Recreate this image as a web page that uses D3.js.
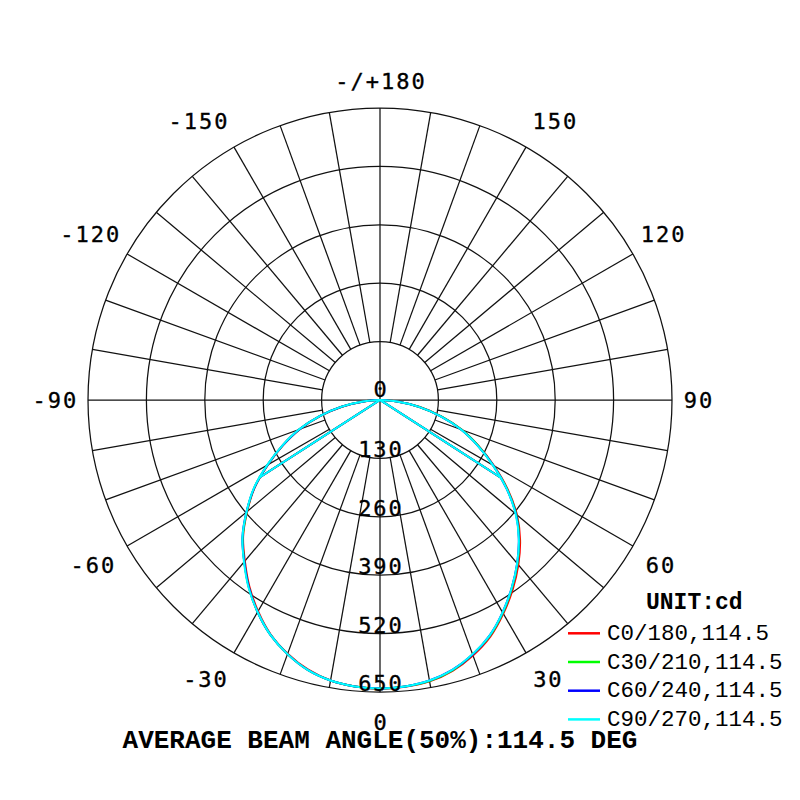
<!DOCTYPE html>
<html>
<head>
<meta charset="utf-8">
<script src="https://cdn.jsdelivr.net/npm/d3@7"></script>
<style>
  html, body { margin: 0; padding: 0; background: #fff; }
  svg { display: block; }
</style>
</head>
<body>
<svg id="chart" width="800" height="800"></svg>
<script>
// ---------------- DATA ----------------
const ringValues = [130, 260, 390, 520, 650];
const ringLabels = ["0", "130", "260", "390", "520", "650"];
const angleLabelValues = [-150, -120, -90, -60, -30, 0, 30, 60, 90, 120, 150, 180];
const gammaAngles = [-90,-85,-80,-75,-70,-65,-60,-55,-50,-45,-40,-35,-30,-25,-20,-15,-10,-5,0,
                     5,10,15,20,25,30,35,40,45,50,55,60,65,70,75,80,85,90];
const seriesNames = ["C0/180,114.5", "C30/210,114.5", "C60/240,114.5", "C90/270,114.5"];
const seriesColors = ["#ff0000", "#00ff00", "#0000ff", "#00ffff"];
const c0Values  = [0,36,86,138,190,238,288,341,386,431,468,507,543,576,601,621,634,640,643,
                   641,636,624,605,581,549,515,479,441,398,347,293,242,194,142,90,38,0];
const c30Values = [0,37,87,139,191,239,289,342,387,432,470,509,545,577,602,622,634,640,642,
                   640,635,623,603,579,547,512,476,438,396,345,291,241,193,141,89,38,0];
const c60Values = [0,37,87,139,191,239,289,342,388,433,470,509,545,577,602,622,634,640,642,
                   640,634,622,603,578,546,511,475,437,395,344,291,240,192,140,88,38,0];
const c90Values = [0,38,88,140,192,240,290,343,388,433,471,510,545,577,602,622,634,640,642,
                   640,634,622,602,578,546,511,475,437,394,344,290,240,192,140,88,38,0];
const seriesValues = [c0Values, c30Values, c60Values, c90Values];
const beamAngles = [114.5, 114.5, 114.5, 114.5];
const halfPeakValues = [321, 321, 321, 321];
const unitLabel = "UNIT:cd";
const titleText = "AVERAGE BEAM ANGLE(50%):114.5 DEG";

// ---------------- LAYOUT ----------------
const cx = 380, cy = 400, R = 292;
// label placement (layout only): radius of the label centre and a small angular nudge
const labelRadius = {0: 322, 30: 325, 60: 325, 90: 318, 120: 328, 150: 329, 180: 319};
const labelNudge = {0: 0, 30: 1, 60: -0.5, 90: 0, 120: 0.5, 150: -2, 180: 0};

const svg = d3.select("#chart");
const r = d3.scaleLinear().domain([0, 650]).range([0, R]);
const toRad = d => d * Math.PI / 180;
// gamma measured from downward direction, positive to the right
const px = (g, v) => cx + r(v) * Math.sin(toRad(g));
const py = (g, v) => cy + r(v) * Math.cos(toRad(g));

const grid = svg.append("g").attr("fill", "none").attr("stroke", "#111").attr("stroke-width", 1.25);

// rings
grid.selectAll("circle").data(ringValues).join("circle")
  .attr("cx", cx).attr("cy", cy).attr("r", d => r(d));

// spokes every 10 degrees
const spokeAngles = d3.range(-170, 181, 10);
grid.selectAll("line").data(spokeAngles).join("line")
  .attr("x1", d => (d % 90 === 0) ? cx : px(d, ringValues[0]))
  .attr("y1", d => (d % 90 === 0) ? cy : py(d, ringValues[0]))
  .attr("x2", d => px(d, 650))
  .attr("y2", d => py(d, 650));

// curves
const radial = d3.lineRadial()
  .angle(d => Math.PI - toRad(d[0]))
  .radius(d => r(d[1]))
  .curve(d3.curveCatmullRom.alpha(0.5));
const straight = d3.lineRadial()
  .angle(d => Math.PI - toRad(d[0]))
  .radius(d => r(d[1]));

const curves = svg.append("g").attr("transform", `translate(${cx},${cy})`).attr("fill", "none");
seriesValues.forEach((vals, i) => {
  const pts = gammaAngles.map((g, k) => [g, vals[k]]);
  curves.append("path")
    .attr("d", radial(pts))
    .attr("stroke", seriesColors[i]).attr("stroke-width", 2);
  const half = beamAngles[i] / 2;
  const beamPts = [[-half, halfPeakValues[i]], [0, 0], [half, halfPeakValues[i]]];
  curves.append("path")
    .attr("d", straight(beamPts))
    .attr("stroke", seriesColors[i]).attr("stroke-width", 2);
});

// ring labels
const monoFont = "'DejaVu Sans Mono', monospace";
svg.append("g").selectAll("text").data(ringLabels).join("text")
  .attr("x", cx + 1)
  .attr("y", (d, i) => i === 0 ? cy - 3 : cy + r(+d) - 1)
  .attr("text-anchor", "middle")
  .attr("font-family", monoFont).attr("font-size", 22).attr("letter-spacing", 2)
  .attr("fill", "#000").attr("stroke", "#000").attr("stroke-width", 0.35)
  .text(d => d);

// angle labels, placed just outside the outer ring
svg.append("g").selectAll("text").data(angleLabelValues).join("text")
  .attr("text-anchor", "middle")
  .attr("font-family", monoFont).attr("font-size", 22).attr("letter-spacing", 2)
  .attr("fill", "#000").attr("stroke", "#000").attr("stroke-width", 0.35)
  .attr("x", d => {
    const a = Math.abs(d), s = d < 0 ? -1 : 1;
    const th = s * (a + labelNudge[a]);
    return cx + labelRadius[a] * Math.sin(toRad(th)) + (d < 0 ? -7.6 : 0) + 1;
  })
  .attr("y", d => {
    const a = Math.abs(d);
    return cy + labelRadius[a] * Math.cos(toRad(a + labelNudge[a])) + 8;
  })
  .text(d => d === 180 ? "-/+180" : String(d));

// legend
const legendFont = "'Liberation Mono', 'Courier New', monospace";
svg.append("text").attr("x", 646).attr("y", 609)
  .attr("font-family", legendFont).attr("font-weight", "bold").attr("font-size", 23)
  .attr("fill", "#000").text(unitLabel);
const leg = svg.append("g").selectAll("g").data(seriesNames).join("g")
  .attr("transform", (d, i) => `translate(0, ${633.3 + i * 28.7})`);
leg.append("line").attr("x1", 568).attr("x2", 600).attr("y1", 0).attr("y2", 0)
  .attr("stroke", (d, i) => seriesColors[i]).attr("stroke-width", 2.5);
leg.append("text").attr("x", 607).attr("y", 6.5)
  .attr("font-family", legendFont).attr("font-size", 22.5).attr("fill", "#000")
  .text(d => d);

// title
svg.append("text").attr("x", 380).attr("y", 748).attr("text-anchor", "middle")
  .attr("font-family", legendFont).attr("font-weight", "bold").attr("font-size", 26)
  .attr("fill", "#000").text(titleText);
</script>
</body>
</html>
